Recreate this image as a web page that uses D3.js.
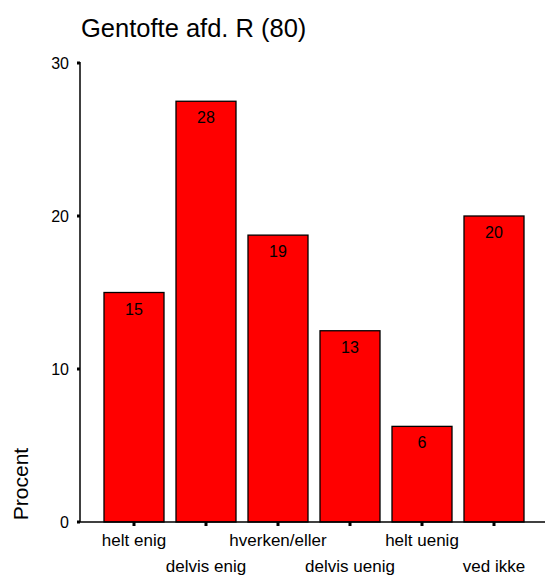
<!DOCTYPE html>
<html>
<head>
<meta charset="utf-8">
<script src="https://cdn.jsdelivr.net/npm/d3@7"></script>
<style>
  body { margin: 0; background: #fff; }
  text { font-family: "Liberation Sans", Arial, sans-serif; fill: #000; }
</style>
</head>
<body>
<script>
// answers for Gentofte afd. R, n = 80
var categories = ['helt enig', 'delvis enig', 'hverken/eller', 'delvis uenig', 'helt uenig', 'ved ikke'];
var percents = [15, 27.5, 18.75, 12.5, 6.25, 20];
var barLabels = ['15', '28', '19', '13', '6', '20'];
var yTicks = [0, 10, 20, 30];

var w = 545, h = 581;

var svg = d3.select('body').append('svg')
    .attr('width', w)
    .attr('height', h);

var yScale = d3.scaleLinear()
    .domain([0, 30])
    .range([522, 63]);

var xScale = d3.scaleBand()
    .domain(d3.range(categories.length))
    .range([98, 530])
    .paddingInner(1 / 6)
    .paddingOuter(1 / 12);

// title
svg.append('text')
  .attr('x', 81)
  .attr('y', 37)
  .attr('font-size', '25.5px')
  .text('Gentofte afd. R (80)');

// bars
svg.selectAll('rect.bar')
  .data(percents)
  .enter()
  .append('rect')
  .attr('class', 'bar')
  .attr('x', function (d, i) { return xScale(i); })
  .attr('y', function (d) { return yScale(d); })
  .attr('width', xScale.bandwidth())
  .attr('height', function (d) { return yScale(0) - yScale(d); })
  .attr('fill', '#ff0000')
  .attr('stroke', '#000')
  .attr('stroke-width', 1.3);

svg.selectAll('text.val')
  .data(percents)
  .enter()
  .append('text')
  .attr('class', 'val')
  .attr('x', function (d, i) { return xScale(i) + xScale.bandwidth() / 2; })
  .attr('y', function (d) { return yScale(d) + 22; })
  .attr('text-anchor', 'middle')
  .attr('font-size', '16px')
  .text(function (d, i) { return barLabels[i]; });

// y axis
svg.append('line')
  .attr('x1', 80).attr('x2', 80)
  .attr('y1', yScale(30) - 1).attr('y2', yScale(0))
  .attr('stroke', '#000').attr('stroke-width', 1.5);

svg.selectAll('rect.ytick')
  .data(yTicks)
  .enter()
  .append('rect')
  .attr('class', 'ytick')
  .attr('x', 77).attr('width', 3)
  .attr('y', function (d) { return yScale(d) - 1.5; })
  .attr('height', 3)
  .attr('fill', '#000');

svg.selectAll('text.ytl')
  .data(yTicks)
  .enter()
  .append('text')
  .attr('class', 'ytl')
  .attr('x', 69)
  .attr('y', function (d) { return yScale(d) + 6; })
  .attr('text-anchor', 'end')
  .attr('font-size', '16px')
  .text(function (d) { return d; });

// x axis
svg.append('line')
  .attr('x1', 78).attr('x2', 545)
  .attr('y1', yScale(0)).attr('y2', yScale(0))
  .attr('stroke', '#000').attr('stroke-width', 1.5);

svg.selectAll('rect.xtick')
  .data(categories)
  .enter()
  .append('rect')
  .attr('class', 'xtick')
  .attr('x', function (d, i) { return xScale(i) + xScale.bandwidth() / 2 - 1.5; })
  .attr('y', yScale(0))
  .attr('width', 3).attr('height', 4)
  .attr('fill', '#000');

svg.selectAll('text.xtl')
  .data(categories)
  .enter()
  .append('text')
  .attr('class', 'xtl')
  .attr('x', function (d, i) { return xScale(i) + xScale.bandwidth() / 2; })
  .attr('y', function (d, i) { return i % 2 == 0 ? 546 : 572; })
  .attr('text-anchor', 'middle')
  .attr('font-size', '17px')
  .text(function (d) { return d; });

// y label
svg.append('text')
  .attr('transform', 'translate(28,484) rotate(-90)')
  .attr('text-anchor', 'middle')
  .attr('font-size', '21px')
  .text('Procent');
</script>
</body>
</html>
